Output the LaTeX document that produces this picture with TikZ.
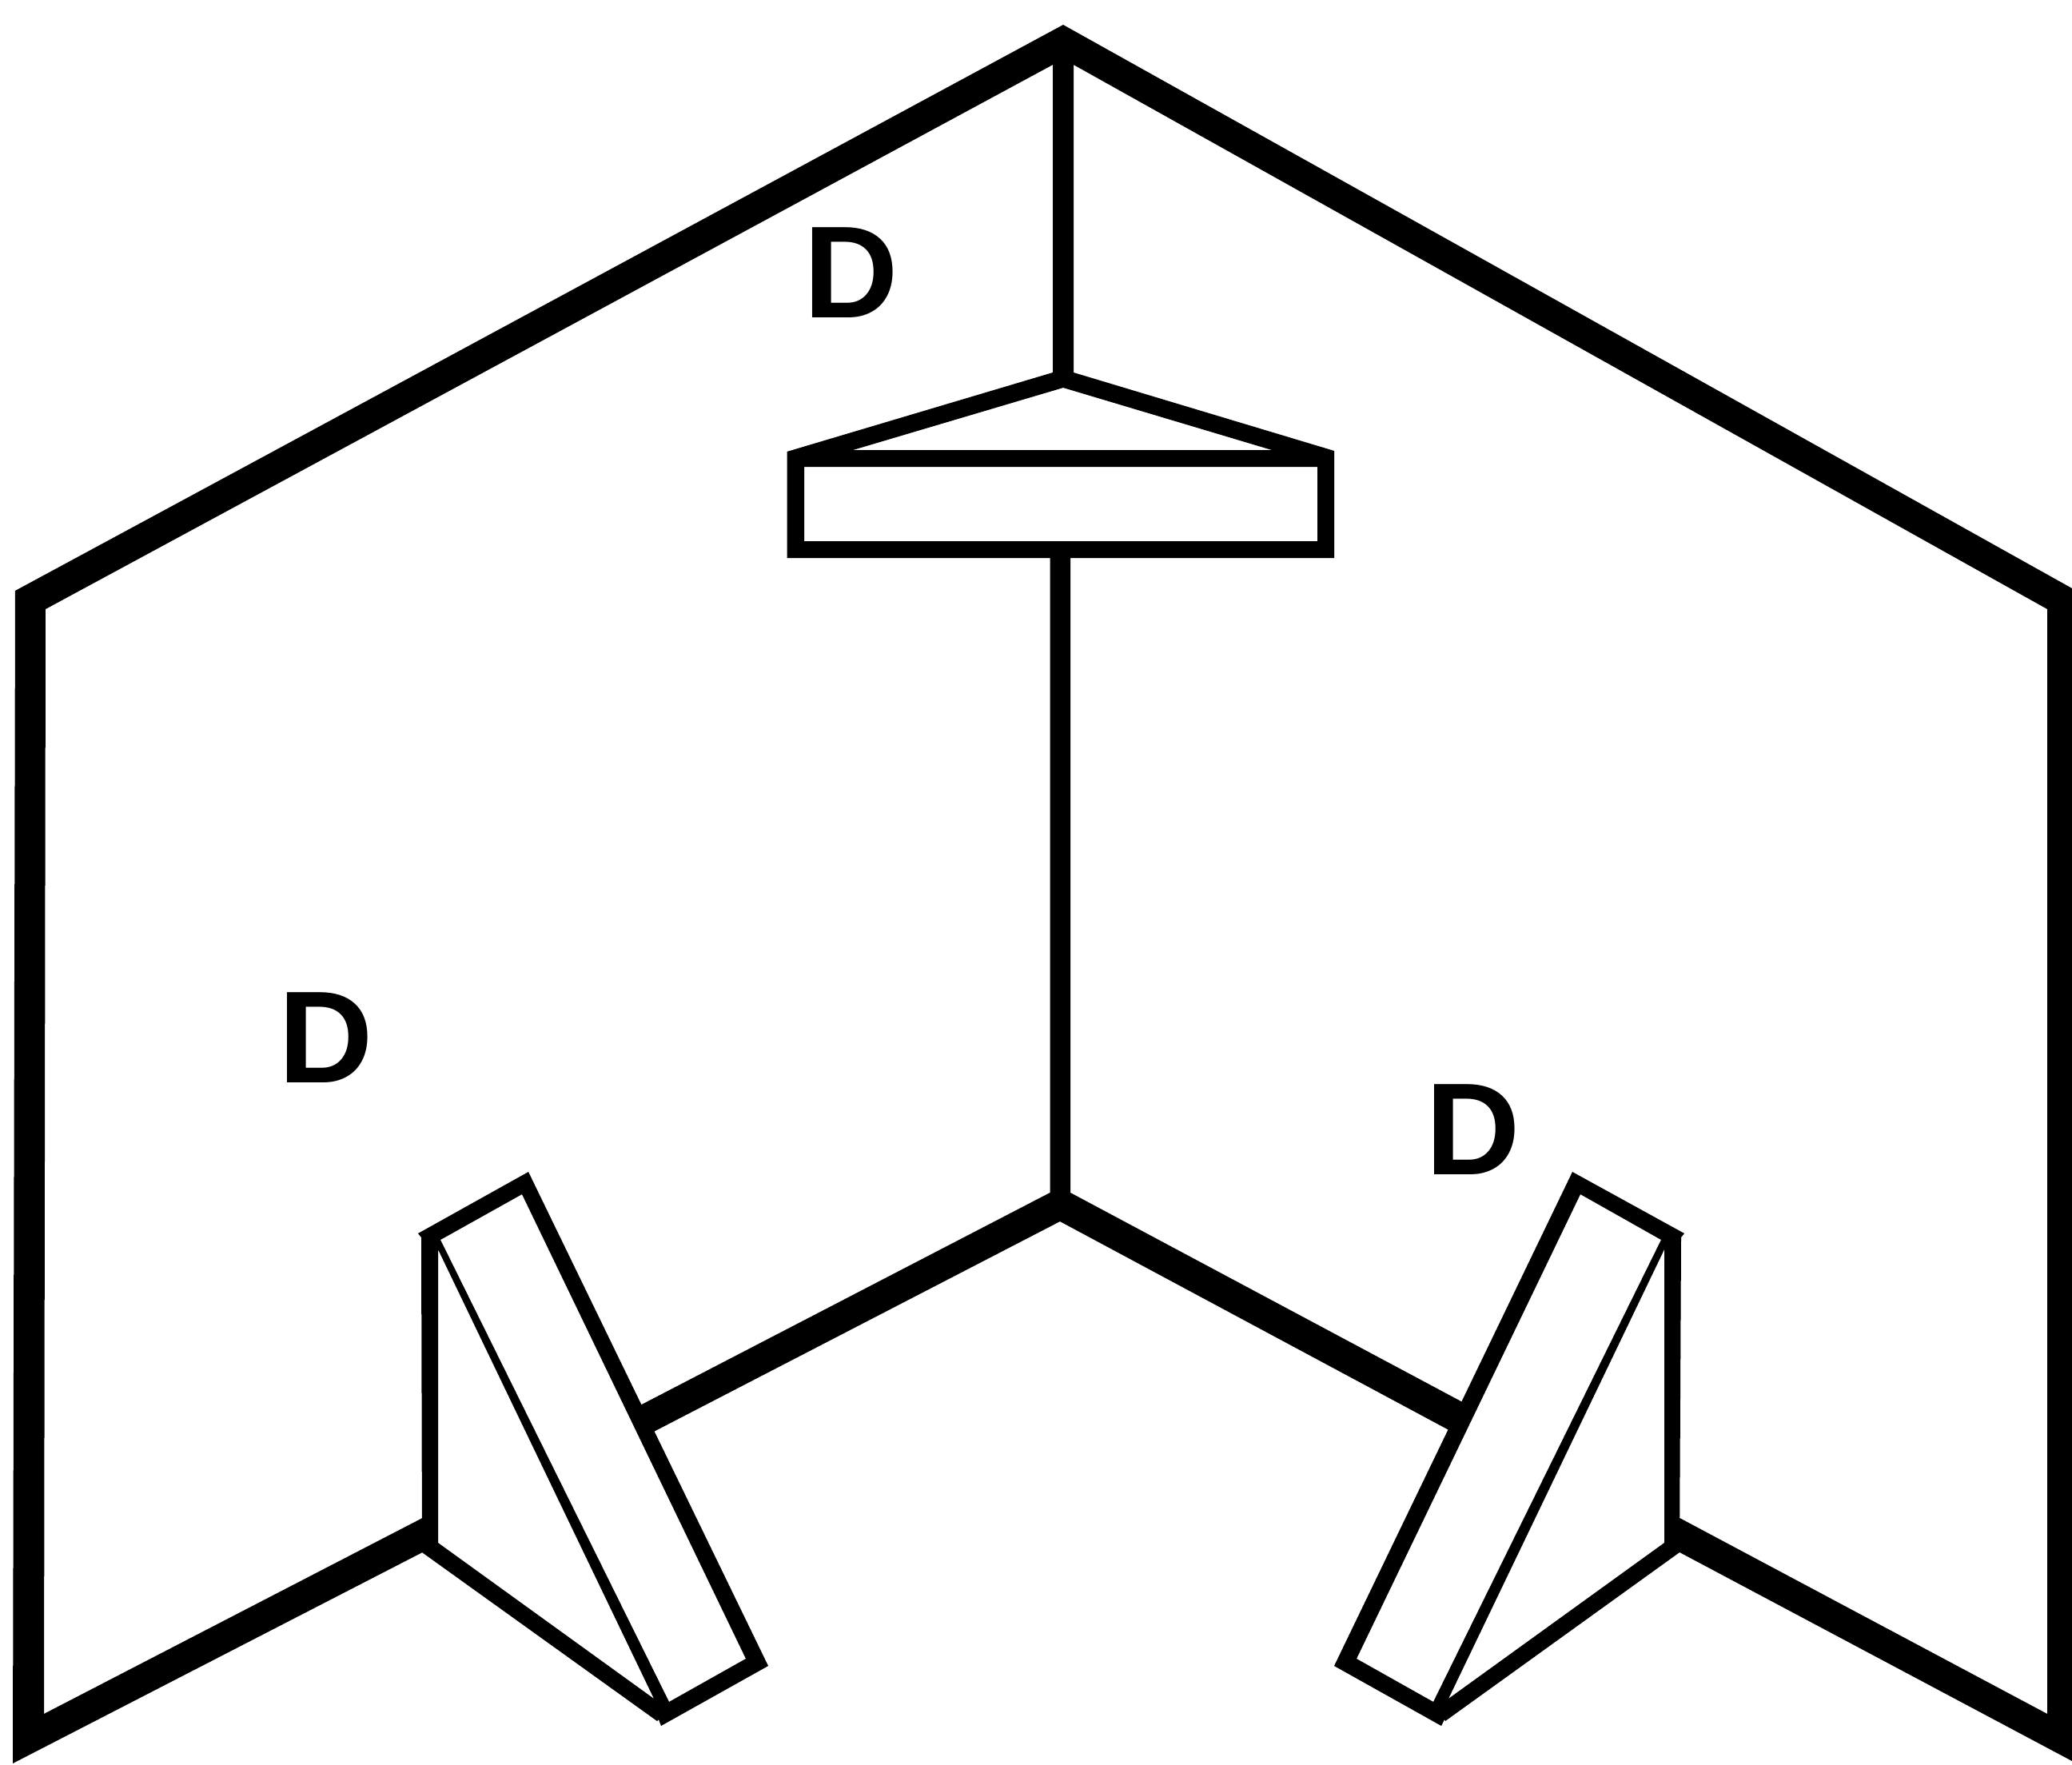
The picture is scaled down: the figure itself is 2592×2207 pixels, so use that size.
\documentclass[tikz,border=0pt]{standalone}
\usepackage{fontspec}
\setmainfont{Liberation Sans}
\tikzset{
  ink/.style={fill=black,even odd rule,draw=none},
  letter/.style={inner sep=0pt,outer sep=0pt,anchor=base west,font=\fontsize{82pt}{84pt}\selectfont\bfseries}
}
\begin{document}
\begin{tikzpicture}[x=0.5pt,y=-0.5pt]
\useasboundingbox (0,0) rectangle (2592,2207);
\clip (0,0) rectangle (2592,2207);
% outer frame with feet and upper post
\fill[ink] (1330,31) -- (2592,736) -- (2592,2203) -- (2090,1936) -- (2090,1893) -- (2561,2144) -- (2561,762)
  -- (1343,81) -- (1343,470) -- (1317,470) -- (1317,81) -- (57,762) -- (55,2144) -- (540,1893) -- (540,1936)
  -- (16,2206) -- (19,739) -- cycle;
% hood and box
\fill[ink] (1317,466) -- (1343,466) -- (1669,564) -- (1669,698) -- (984.5,698) -- (984.5,565) -- cycle
  (1330,485) -- (1591,563) -- (1067,563) -- cycle
  (1006,584) -- (1648,584) -- (1648,677) -- (1006,677) -- cycle;
% lower post and arms
\fill[ink] (1313.5,690) -- (1339,690) -- (1339,1492) -- (1837,1758) -- (1820,1793) -- (1326,1528)
  -- (812,1794) -- (795,1761) -- (1313.5,1492) -- cycle;
% left bracket
\fill[ink] (523,1543) -- (661,1466) -- (961,2084) -- (827,2159) -- (824,2151) -- (822,2153) -- (528,1942)
  -- (527,1548) -- cycle
  (551,1551) -- (653,1494) -- (933,2075) -- (837,2129) -- cycle
  (548,1563) -- (818,2125) -- (548,1930) -- cycle;
% right bracket
\fill[ink] (2107,1543) -- (1967,1466) -- (1669,2084) -- (1803,2159) -- (1807,2151) -- (1808,2153) -- (2101,1942)
  -- (2103,1548) -- cycle
  (2078,1551) -- (1977,1494) -- (1697,2075) -- (1793,2129) -- cycle
  (2082,1563) -- (1812,2125) -- (2082,1930) -- cycle;
\node[letter] (dtop) at (1005,397) {D};
\node[letter] (dleft) at (348,1354) {D};
\node[letter] (dright) at (1783,1469) {D};
\end{tikzpicture}
\end{document}
